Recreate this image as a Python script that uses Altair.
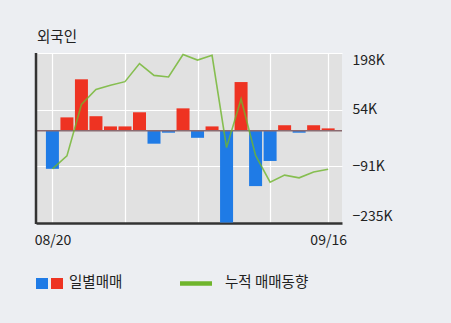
import altair as alt
import pandas as pd

# ---- data ----
dates = ["08/20", "08/21", "08/24", "08/25", "08/26", "08/27", "08/28", "08/31", "09/01", "09/02",
         "09/03", "09/04", "09/07", "09/08", "09/09", "09/10", "09/11", "09/14", "09/15", "09/16"]
daily_k = [-97, 34, 131, 37, 11, 11, 47, -33, -5, 57,
           -18, 11, -234, 124, -141, -77, 14, -5, 14, 6]
cumulative_k = [-97, -64, 67, 105, 116, 125, 171, 141, 137, 194,
                180, 192, -43, 81, -63, -131, -113, -120, -105, -98]
y_ticks = [-235000, -90667, 53667, 198000]
x_grid = [0, 5, 10, 15, 19]
title_text = "외국인"
legend_labels = ["일별매매", "누적 매매동향"]

FONT = "Noto Sans CJK KR"
BLUE = "#1f7be6"
RED = "#ee3322"
GREEN = "#6fb52c"

df = pd.DataFrame({
    "idx": list(range(len(dates))),
    "date": dates,
    "daily": [v * 1000 for v in daily_k],
    "cum": [v * 1000 for v in cumulative_k],
})
df["sign"] = ["pos" if v >= 0 else "neg" for v in df["daily"]]

W, H = 306, 170
xscale = alt.Scale(domain=[-0.787, 19.61], nice=False, zero=False)
yscale = alt.Scale(domain=[-235000, 198000], nice=False, zero=False)

label_map = "{" + ",".join(f"'{i}':'{d}'" for i, d in enumerate(dates) if i in (0, len(dates) - 1)) + "}"

base = alt.Chart(df)

bars = base.mark_bar(size=13, clip=True).encode(
    x=alt.X("idx:Q", scale=xscale,
            axis=alt.Axis(values=x_grid, title=None, grid=True, gridColor="white", gridWidth=1.2,
                          ticks=False, domain=True, domainColor="#333333", domainWidth=2.5,
                          labelExpr=f"({label_map})[''+datum.value] || ''",
                          labelPadding=10, labelFontSize=14, labelFont=FONT, labelColor="#222222",
                          labelAlign="center", labelOverlap=False)),
    y=alt.Y("daily:Q", scale=yscale,
            axis=alt.Axis(orient="right", values=y_ticks, title=None, grid=True, gridColor="white",
                          gridWidth=1.2, ticks=False, domain=False, labelFlush=True,
                          labelExpr="format(datum.value/1000, '.0f') + 'K'",
                          labelPadding=10, labelFontSize=14, labelFont=FONT, labelColor="#222222")),
    y2=alt.datum(0),
    color=alt.Color("sign:N", scale=alt.Scale(domain=["neg", "pos"], range=[BLUE, RED]), legend=None),
)

zero = base.transform_filter("datum.idx == 0").transform_calculate(z="0").mark_rule(
    color="#8a6a70", strokeWidth=1.5
).encode(y=alt.Y("z:Q", scale=yscale), x=alt.value(0), x2=alt.value(W))

line = base.mark_line(color=GREEN, strokeWidth=1.6, opacity=0.8).encode(
    x=alt.X("idx:Q", scale=xscale),
    y=alt.Y("cum:Q", scale=yscale),
)

leftline = base.transform_filter("datum.idx == 0").mark_rule(color="#333333", strokeWidth=2.5).encode(
    x=alt.value(0), y=alt.value(0), y2=alt.value(H + 1)
)

one = alt.Chart(pd.DataFrame({"t": [title_text]}))
title = one.mark_text(align="left", baseline="middle", fontSize=14.5, font=FONT, color="#222222").encode(
    x=alt.value(1), y=alt.value(-15), text="t:N"
)

leg = alt.Chart(pd.DataFrame({"a": legend_labels[:1], "b": legend_labels[1:]}))
sq_blue = leg.mark_rect(color=BLUE).encode(x=alt.value(0), x2=alt.value(12), y=alt.value(225), y2=alt.value(236))
sq_red = leg.mark_rect(color=RED).encode(x=alt.value(15), x2=alt.value(27), y=alt.value(225), y2=alt.value(236))
t1 = leg.mark_text(align="left", baseline="middle", fontSize=14.5, font=FONT, color="#222222").encode(
    x=alt.value(33), y=alt.value(230), text="a:N")
gline = leg.mark_rule(color=GREEN, strokeWidth=4.5).encode(x=alt.value(144), x2=alt.value(176), y=alt.value(230.5))
t2 = leg.mark_text(align="left", baseline="middle", fontSize=14.5, font=FONT, color="#222222").encode(
    x=alt.value(189), y=alt.value(230), text="b:N")

chart = alt.layer(bars, zero, line, leftline, title, sq_blue, sq_red, t1, gline, t2).properties(
    width=W, height=H,
    autosize=alt.AutoSizeParams(type="none"),
    padding={"left": 36, "top": 53, "right": 451 - 36 - W, "bottom": 323 - 53 - H},
    background="#eceef2",
).configure_view(fill="#e1e1e1", stroke=None)

chart.save("out.html", embed_options={"renderer": "svg", "actions": False})
